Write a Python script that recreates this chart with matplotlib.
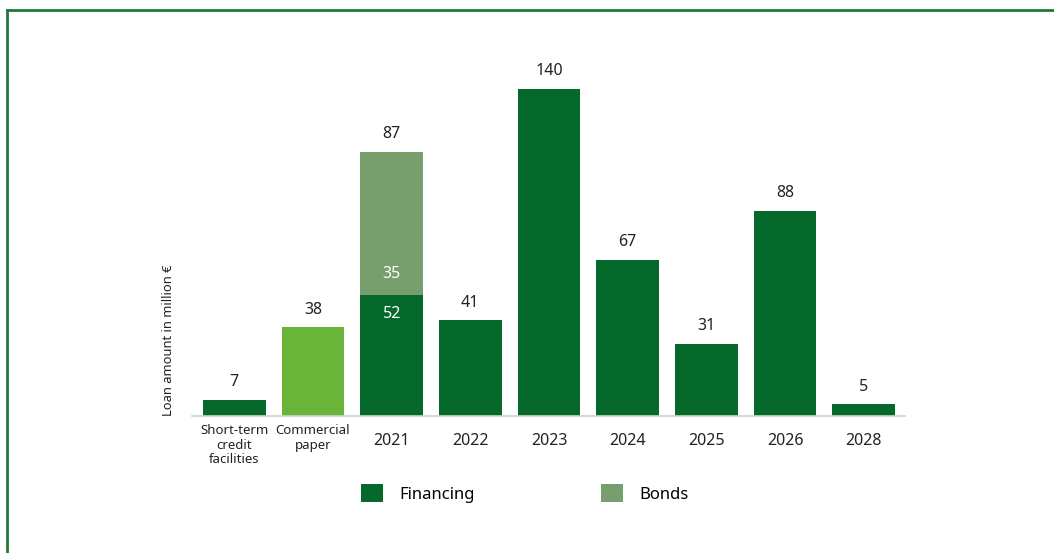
import matplotlib
matplotlib.use("Agg")
import matplotlib.pyplot as plt
import matplotlib.transforms as mtransforms
from matplotlib.patches import Patch
from matplotlib.lines import Line2D

plt.rcParams['font.family'] = ['Noto Sans', 'DejaVu Sans']

# data
categories = ['Short-term\ncredit\nfacilities', 'Commercial\npaper', '2021', '2022',
              '2023', '2024', '2025', '2026', '2028']
financing = [7, 38, 52, 41, 140, 67, 31, 88, 5]
bond_labels = [None, None, 35, None, None, None, None, None, None]
# the bonds segment is drawn taller than its label in the original chart
bond_heights = [0, 0, 61, 0, 0, 0, 0, 0, 0]
totals = [7, 38, 87, 41, 140, 67, 31, 88, 5]

dark_green = '#05692c'
light_green = '#6bb43a'
bond_green = '#769f6d'
bar_colors = [dark_green, light_green] + [dark_green] * 7

fig = plt.figure(figsize=(10.54, 5.53), dpi=100)
ax = fig.add_axes([0.182, 0.2477, 0.677, 0.6546])

x = list(range(len(categories)))
ax.bar(x, financing, width=0.8, color=bar_colors)
ax.bar(x, bond_heights, width=0.8, bottom=financing, color=bond_green)

for i in x:
    top = financing[i] + bond_heights[i]
    ax.annotate(str(totals[i]), (i, top), xytext=(0, 7), textcoords='offset points',
                ha='center', va='bottom', fontsize=11.5, color='#222222')
    if bond_labels[i] is not None:
        ax.annotate(str(financing[i]), (i, financing[i]), xytext=(0, -14),
                    textcoords='offset points', ha='center', va='center',
                    fontsize=11.5, color='white')
        ax.annotate(str(bond_labels[i]), (i, financing[i]), xytext=(0, 15),
                    textcoords='offset points', ha='center', va='center',
                    fontsize=11.5, color='white')

ax.set_xlim(-0.54, 8.53)
ax.set_ylim(0, 155)
ax.set_yticks([])
ax.set_xticks(x)
ax.set_xticklabels(categories, color='#222222')
ax.tick_params(axis='x', length=0, pad=6)
shift = mtransforms.ScaledTranslation(0, -6 / 72, fig.dpi_scale_trans)
for i, lab in enumerate(ax.get_xticklabels()):
    if i < 2:
        lab.set_fontsize(9.5)
        lab.set_linespacing(1.15)
    else:
        lab.set_fontsize(11.5)
        lab.set_transform(lab.get_transform() + shift)

for s in ['top', 'right', 'left']:
    ax.spines[s].set_visible(False)
ax.spines['bottom'].set_color('#c9d6c9')
ax.spines['bottom'].set_linewidth(1.2)

ax.set_ylabel('Loan amount in million €', fontsize=9.3, color='#222222')
ax.yaxis.label.set_va('bottom')
ax.yaxis.label.set_ha('left')
ax.yaxis.set_label_coords(-0.023, 0.0)

handles = [Patch(facecolor=dark_green), Patch(facecolor=bond_green)]
fig.legend(handles, ['Financing', 'Bonds'], loc='center', bbox_to_anchor=(0.498, 0.108),
           ncol=2, frameon=False, fontsize=12, handlelength=1.3, handleheight=1.3,
           handletextpad=1.0, columnspacing=7.6)

# frame lines along the top and left edge
border = '#1d7a3b'
fig.add_artist(Line2D([0.0066, 1.0], [0.9828, 0.9828], color=border, linewidth=2,
                      transform=fig.transFigure))
fig.add_artist(Line2D([0.0066, 0.0066], [0.0, 0.9828], color=border, linewidth=2,
                      transform=fig.transFigure))

fig.savefig('out.png', dpi=100)
